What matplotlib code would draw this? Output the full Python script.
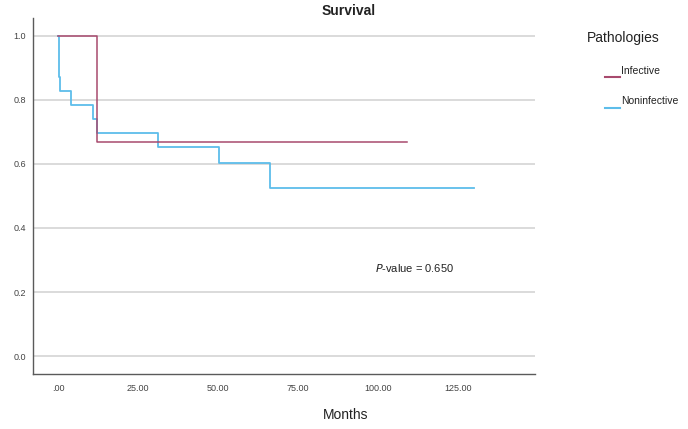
import matplotlib
matplotlib.use("Agg")
import matplotlib.pyplot as plt

plt.rcParams["font.family"] = ["Liberation Sans", "DejaVu Sans"]

RED, BLUE, GRID, SPINE = "#A84A6E", "#5DBDEA", "#D8D8D8", "#5A5A5A"

# Kaplan-Meier step data
inf_t = [0, 12.1, 108.8]
inf_s = [1.0, 0.667, 0.667]
noninf_t = [0, 0.2, 0.6, 4.0, 10.8, 12.2, 31.2, 50.3, 66.3, 129.8]
noninf_s = [1.0, 0.870, 0.826, 0.783, 0.739, 0.696, 0.652, 0.604, 0.526, 0.526]
xticks = [0, 25, 50, 75, 100, 125]
xlabels = [".00", "25.00", "50.00", "75.00", "100.00", "125.00"]
yticks = [0.0, 0.2, 0.4, 0.6, 0.8, 1.0]

fig = plt.figure(figsize=(6.88, 4.29), dpi=100)
ax = fig.add_axes([0.048, 0.128, 0.73, 0.83])

for y in yticks:
    ax.axhline(y, color=GRID, lw=1.3, zorder=0)
ax.step(inf_t, inf_s, where="post", color=RED, lw=1.1, zorder=3)
ax.step(noninf_t, noninf_s, where="post", color=BLUE, lw=1.3, zorder=2)

ax.set_xlim(-7.8, 149)
ax.set_ylim(-0.056, 1.055)
ax.set_xticks(xticks)
ax.set_xticklabels(xlabels)
ax.set_yticks(yticks)
ax.set_yticklabels([f"{v:.1f}" for v in yticks])
ax.tick_params(length=0, labelsize=6.5, labelcolor="#444444")
ax.tick_params(axis="x", pad=7)
ax.tick_params(axis="y", pad=5)
for s in ["top", "right"]:
    ax.spines[s].set_visible(False)
for s in ["left", "bottom"]:
    ax.spines[s].set_color(SPINE)
    ax.spines[s].set_linewidth(1.0)

fig.text(375 / 688, 1 - 268 / 429, "$P$-value = 0.650", fontsize=8, color="#222222",
         va="center")

fig.text(0.507, 0.974, "Survival", ha="center", va="center", fontsize=10,
         fontweight="bold", color="#222222")
fig.text(0.503, 0.033, "Months", ha="center", va="center", fontsize=10, color="#222222")

# legend drawn by hand to match SPSS layout
fig.text(623 / 688, 1 - 38 / 429, "Pathologies", ha="center", va="center", fontsize=10,
         color="#222222")
for lab, col, yl, yt in [("Infective", RED, 77, 71), ("Noninfective", BLUE, 108, 101)]:
    fig.add_artist(plt.Line2D([605 / 688, 620 / 688], [1 - yl / 429, 1 - yl / 429],
                              color=col, lw=1.5))
    fig.text(621 / 688, 1 - yt / 429, lab, ha="left", va="center", fontsize=7.5,
             color="#222222")

fig.savefig("out.png", dpi=100, facecolor="white")
